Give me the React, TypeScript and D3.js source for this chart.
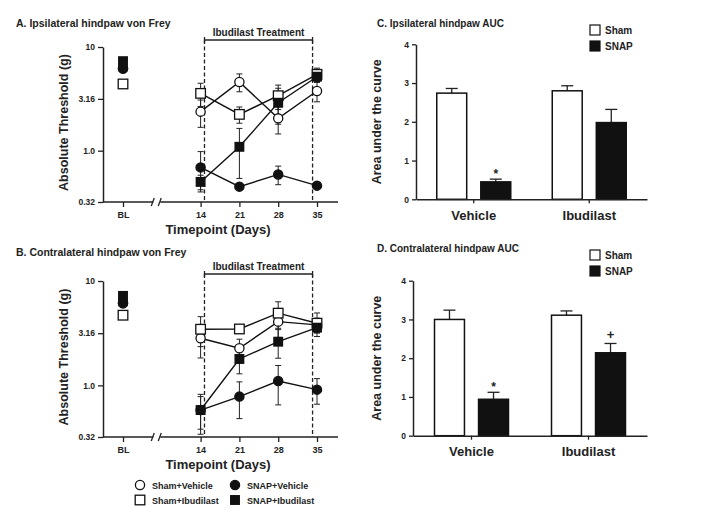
import { useRef, useEffect } from "react";
import * as d3 from "d3";

const WIDTH = 701;
const HEIGHT = 526;
const FONT = "'Liberation Sans', Arial, Helvetica, sans-serif";

// Timepoints in days; BL is plotted at day 0, left of the axis break
const timeDays = [0, 14, 21, 28, 35];
const timeLabels = ["BL", "14", "21", "28", "35"];
const thresholdTicks = [0.32, 1.0, 3.16, 10];
const thresholdTickLabels = ["0.32", "1.0", "3.16", "10"];
const treatmentWindow = [14.7, 34.2];

// A. Ipsilateral von Frey (g), mean and SEM per timepoint
const ipsiShamVehicle = [6.2, 2.38, 4.6, 2.05, 3.76];
const ipsiShamVehicleSem = [0.4, 0.7, 0.9, 0.6, 0.8];
const ipsiShamIbudilast = [4.4, 3.57, 2.24, 3.39, 5.45];
const ipsiShamIbudilastSem = [0.3, 0.9, 0.4, 0.9, 0.8];
const ipsiSnapVehicle = [6.2, 0.69, 0.45, 0.59, 0.46];
const ipsiSnapVehicleSem = [0.5, 0.29, 0.03, 0.12, 0.03];
const ipsiSnapIbudilast = [7.3, 0.5, 1.09, 2.9, 5.17];
const ipsiSnapIbudilastSem = [0.6, 0.08, 0.55, 1.1, 0.6];

// B. Contralateral von Frey (g)
const contraShamVehicle = [6.1, 2.83, 2.27, 4.08, 3.8];
const contraShamVehicleSem = [0.5, 1.0, 0.5, 1.2, 0.6];
const contraShamIbudilast = [4.7, 3.45, 3.47, 4.92, 3.94];
const contraShamIbudilastSem = [0.3, 1.1, 0.3, 1.4, 1.0];
const contraSnapVehicle = [6.2, 0.58, 0.78, 1.1, 0.91];
const contraSnapVehicleSem = [0.5, 0.2, 0.3, 0.45, 0.25];
const contraSnapIbudilast = [7.2, 0.58, 1.79, 2.62, 3.57];
const contraSnapIbudilastSem = [0.7, 0.24, 0.5, 0.8, 0.4];

// C / D. Area under the curve
const aucGroups = ["Vehicle", "Ibudilast"];
const aucSeries = ["Sham", "SNAP"];
const aucTicks = [0, 1, 2, 3, 4];
const ipsiAucSham = [2.74, 2.8];
const ipsiAucShamSem = [0.12, 0.13];
const ipsiAucSnap = [0.45, 1.98];
const ipsiAucSnapSem = [0.07, 0.34];
const ipsiAucMarks = ["*", ""];
const contraAucSham = [3.0, 3.11];
const contraAucShamSem = [0.24, 0.11];
const contraAucSnap = [0.94, 2.14];
const contraAucSnapSem = [0.18, 0.24];
const contraAucMarks = ["*", "+"];

type Shape = "circle" | "square";
interface Series {
  name: string;
  shape: Shape;
  filled: boolean;
  values: number[];
  sem: number[];
}

// drawn in this order: open (sham) markers underneath the filled ones
const ipsiSeries: Series[] = [
  { name: "Sham+Vehicle", shape: "circle", filled: false, values: ipsiShamVehicle, sem: ipsiShamVehicleSem },
  { name: "Sham+Ibudilast", shape: "square", filled: false, values: ipsiShamIbudilast, sem: ipsiShamIbudilastSem },
  { name: "SNAP+Vehicle", shape: "circle", filled: true, values: ipsiSnapVehicle, sem: ipsiSnapVehicleSem },
  { name: "SNAP+Ibudilast", shape: "square", filled: true, values: ipsiSnapIbudilast, sem: ipsiSnapIbudilastSem },
];

const contraSeries: Series[] = [
  { name: "Sham+Vehicle", shape: "circle", filled: false, values: contraShamVehicle, sem: contraShamVehicleSem },
  { name: "Sham+Ibudilast", shape: "square", filled: false, values: contraShamIbudilast, sem: contraShamIbudilastSem },
  { name: "SNAP+Vehicle", shape: "circle", filled: true, values: contraSnapVehicle, sem: contraSnapVehicleSem },
  { name: "SNAP+Ibudilast", shape: "square", filled: true, values: contraSnapIbudilast, sem: contraSnapIbudilastSem },
];

const legendOrder = ["Sham+Vehicle", "SNAP+Vehicle", "Sham+Ibudilast", "SNAP+Ibudilast"];

type Sel = d3.Selection<SVGSVGElement, unknown, null, undefined>;
type G = d3.Selection<SVGGElement, unknown, null, undefined>;

function drawMarker(g: G, shape: Shape, filled: boolean, cx: number, cy: number) {
  const fill = filled ? "#111" : "#fff";
  if (shape === "circle") {
    g.append("circle")
      .attr("cx", cx)
      .attr("cy", cy)
      .attr("r", 4.6)
      .attr("fill", fill)
      .attr("stroke", "#111")
      .attr("stroke-width", 1.3);
  } else {
    const s = filled ? 8.6 : 9.6;
    g.append("rect")
      .attr("x", cx - s / 2)
      .attr("y", cy - s / 2)
      .attr("width", s)
      .attr("height", s)
      .attr("fill", fill)
      .attr("stroke", "#111")
      .attr("stroke-width", 1.3);
  }
}

function drawVonFrey(
  svg: Sel,
  series: Series[],
  opts: { title: string; titleY: number; top: number; bottom: number }
) {
  const { title, titleY, top, bottom } = opts;
  const left = 103;
  const right = 338;
  const x = d3.scaleLinear().domain([0, 35]).range([123, 317]);
  const y = d3.scaleLog().domain([0.32, 10]).range([bottom, top]);
  const g = svg.append("g").attr("font-family", FONT);

  g.append("text")
    .attr("x", 16)
    .attr("y", titleY)
    .attr("font-size", "10.5px")
    .attr("font-weight", "bold")
    .attr("fill", "#222")
    .text(title);

  // Y axis
  const yAxis = g
    .append("g")
    .attr("transform", `translate(${left},0)`)
    .call(
      d3
        .axisLeft(y)
        .tickValues(thresholdTicks)
        .tickFormat((_, i) => thresholdTickLabels[i])
        .tickSize(5)
        .tickSizeOuter(0)
    );
  yAxis.selectAll("text").attr("font-size", "8.5px").attr("font-weight", "bold").attr("fill", "#222").attr("font-family", FONT);
  yAxis.select(".domain").attr("stroke", "#222").attr("stroke-width", 1.5);
  yAxis.selectAll(".tick line").attr("stroke", "#222").attr("stroke-width", 1.3);

  // X axis with a break after BL
  const xAxis = g
    .append("g")
    .attr("transform", `translate(0,${bottom})`)
    .call(
      d3
        .axisBottom(x)
        .tickValues(timeDays)
        .tickFormat((_, i) => timeLabels[i])
        .tickSize(5)
    );
  xAxis.select(".domain").remove();
  xAxis.selectAll("text").attr("font-size", "9px").attr("font-weight", "bold").attr("fill", "#222").attr("font-family", FONT).attr("dy", "0.9em");
  xAxis.selectAll(".tick line").attr("stroke", "#222").attr("stroke-width", 1.3);
  const breakX = x(6);
  g.append("line").attr("x1", left).attr("x2", breakX - 3).attr("y1", bottom).attr("y2", bottom).attr("stroke", "#222").attr("stroke-width", 1.5);
  g.append("line").attr("x1", breakX + 4).attr("x2", right).attr("y1", bottom).attr("y2", bottom).attr("stroke", "#222").attr("stroke-width", 1.5);
  [-3, 4].forEach((dx) => {
    g.append("line")
      .attr("x1", breakX + dx - 2)
      .attr("x2", breakX + dx + 1)
      .attr("y1", bottom + 4)
      .attr("y2", bottom - 4)
      .attr("stroke", "#222")
      .attr("stroke-width", 1.3);
  });

  // Axis labels
  g.append("text")
    .attr("transform", "rotate(-90)")
    .attr("x", -(top + bottom) / 2 + 2)
    .attr("y", 68)
    .attr("text-anchor", "middle")
    .attr("font-size", "12.5px")
    .attr("font-weight", "bold")
    .attr("fill", "#222")
    .text("Absolute Threshold (g)");
  g.append("text")
    .attr("x", 218)
    .attr("y", bottom + 32)
    .attr("text-anchor", "middle")
    .attr("font-size", "13px")
    .attr("font-weight", "bold")
    .attr("fill", "#222")
    .text("Timepoint (Days)");

  // Treatment window
  const bracketY = top - 7;
  const [t0, t1] = treatmentWindow.map((d) => x(d));
  g.append("line").attr("x1", t0).attr("x2", t1).attr("y1", bracketY).attr("y2", bracketY).attr("stroke", "#222").attr("stroke-width", 1.3);
  [t0, t1].forEach((tx) => {
    g.append("line").attr("x1", tx).attr("x2", tx).attr("y1", bracketY - 3).attr("y2", bracketY + 3).attr("stroke", "#222").attr("stroke-width", 1.3);
    g.append("line")
      .attr("x1", tx)
      .attr("x2", tx)
      .attr("y1", bracketY)
      .attr("y2", bottom)
      .attr("stroke", "#222")
      .attr("stroke-width", 1.3)
      .attr("stroke-dasharray", "4,2.5");
  });
  g.append("text")
    .attr("x", (t0 + t1) / 2)
    .attr("y", bracketY - 4)
    .attr("text-anchor", "middle")
    .attr("font-size", "10px")
    .attr("font-weight", "bold")
    .attr("fill", "#222")
    .text("Ibudilast Treatment");

  // Connecting lines (treatment days only, BL stands alone)
  const line = d3
    .line<number>()
    .x((_, i) => x(timeDays[i + 1]))
    .y((d) => y(d));
  series.forEach((s) => {
    g.append("path")
      .datum(s.values.slice(1))
      .attr("d", line)
      .attr("fill", "none")
      .attr("stroke", "#111")
      .attr("stroke-width", 1.4);
  });

  // Error bars
  series.forEach((s) => {
    s.values.forEach((v, i) => {
      const cx = x(timeDays[i]);
      const hi = y(v + s.sem[i]);
      const lo = y(Math.max(v - s.sem[i], 0.33));
      g.append("line").attr("x1", cx).attr("x2", cx).attr("y1", hi).attr("y2", lo).attr("stroke", "#222").attr("stroke-width", 1);
      [hi, lo].forEach((cy) => {
        g.append("line").attr("x1", cx - 3).attr("x2", cx + 3).attr("y1", cy).attr("y2", cy).attr("stroke", "#222").attr("stroke-width", 1);
      });
    });
  });

  // Markers
  series.forEach((s) => {
    s.values.forEach((v, i) => drawMarker(g, s.shape, s.filled, x(timeDays[i]), y(v)));
  });
}

function drawLegend(svg: Sel, series: Series[]) {
  const g = svg.append("g").attr("font-family", FONT);
  const col = d3.scaleOrdinal<number>().domain(["Sham", "SNAP"]).range([140, 235]);
  const row = d3.scaleOrdinal<number>().domain(["Vehicle", "Ibudilast"]).range([485, 500]);
  legendOrder.forEach((name) => {
    const s = series.find((d) => d.name === name)!;
    const [grp, trt] = name.split("+");
    const cx = col(grp);
    const cy = row(trt);
    drawMarker(g, s.shape, s.filled, cx, cy);
    g.append("text")
      .attr("x", cx + 12)
      .attr("y", cy + 3.5)
      .attr("font-size", "9px")
      .attr("font-weight", "bold")
      .attr("fill", "#222")
      .text(name);
  });
}

function drawAuc(
  svg: Sel,
  opts: {
    title: string;
    titleY: number;
    top: number;
    bottom: number;
    left: number;
    sham: number[];
    shamSem: number[];
    snap: number[];
    snapSem: number[];
    marks: string[];
  }
) {
  const { title, titleY, top, bottom, left } = opts;
  const right = 647;
  const g = svg.append("g").attr("font-family", FONT);
  const x0 = d3.scaleBand<string>().domain(aucGroups).range([left, right]).padding(0);
  const y = d3.scaleLinear().domain([0, 4]).range([bottom, top]);
  const values = [opts.sham, opts.snap];
  const sems = [opts.shamSem, opts.snapSem];

  g.append("text")
    .attr("x", 377)
    .attr("y", titleY)
    .attr("font-size", "10px")
    .attr("font-weight", "bold")
    .attr("fill", "#222")
    .text(title);

  // Legend
  const ly = d3.scaleOrdinal<number>().domain(aucSeries).range([titleY + 3, titleY + 19]);
  aucSeries.forEach((name, k) => {
    g.append("rect")
      .attr("x", 590)
      .attr("y", ly(name) - 5)
      .attr("width", 10)
      .attr("height", 10)
      .attr("fill", k === 0 ? "#fff" : "#111")
      .attr("stroke", "#111")
      .attr("stroke-width", 1.2);
    g.append("text")
      .attr("x", 605)
      .attr("y", ly(name) + 4)
      .attr("font-size", "10px")
      .attr("font-weight", "bold")
      .attr("fill", "#222")
      .text(name);
  });

  // Bars
  aucGroups.forEach((grp, gi) => {
    const c = x0(grp)! + x0.bandwidth() / 2;
    const x1 = d3.scaleBand<string>().domain(aucSeries).range([c - 37, c + 37]).paddingInner(0.32);
    aucSeries.forEach((s, si) => {
      const v = values[si][gi];
      const bx = x1(s)!;
      const bw = x1.bandwidth();
      const errTop = y(v + sems[si][gi]);
      // upward error bar
      g.append("line").attr("x1", bx + bw / 2).attr("x2", bx + bw / 2).attr("y1", y(v)).attr("y2", errTop).attr("stroke", "#222").attr("stroke-width", 1.3);
      g.append("line").attr("x1", bx + bw / 2 - 6).attr("x2", bx + bw / 2 + 6).attr("y1", errTop).attr("y2", errTop).attr("stroke", "#222").attr("stroke-width", 1.3);
      g.append("rect")
        .attr("x", bx)
        .attr("y", y(v))
        .attr("width", bw)
        .attr("height", bottom - y(v))
        .attr("fill", si === 0 ? "#fff" : "#111")
        .attr("stroke", "#111")
        .attr("stroke-width", 1.5);
      if (si === 1 && opts.marks[gi]) {
        const isPlus = opts.marks[gi] === "+";
        g.append("text")
          .attr("x", bx + bw / 2)
          .attr("y", errTop - (isPlus ? 4 : 1))
          .attr("text-anchor", "middle")
          .attr("font-size", isPlus ? "13px" : "12px")
          .attr("font-weight", "bold")
          .attr("fill", "#222")
          .text(opts.marks[gi]);
      }
    });
  });

  // Axes
  const yAxis = g
    .append("g")
    .attr("transform", `translate(${left},0)`)
    .call(d3.axisLeft(y).tickValues(aucTicks).tickFormat(d3.format("d")).tickSize(4).tickSizeOuter(0));
  yAxis.select(".domain").attr("stroke", "#222").attr("stroke-width", 1.5);
  yAxis.selectAll(".tick line").attr("stroke", "#222").attr("stroke-width", 1.3);
  yAxis.selectAll("text").attr("font-size", "8.5px").attr("font-weight", "bold").attr("fill", "#222").attr("font-family", FONT);

  const xAxis = g
    .append("g")
    .attr("transform", `translate(0,${bottom})`)
    .call(d3.axisBottom(x0).tickSize(4).tickSizeOuter(0));
  xAxis.select(".domain").attr("stroke", "#222").attr("stroke-width", 1.5);
  xAxis.selectAll(".tick line").attr("stroke", "#222").attr("stroke-width", 1.3);
  xAxis.selectAll("text").attr("font-size", "13px").attr("font-weight", "bold").attr("fill", "#222").attr("font-family", FONT).attr("dy", "1.05em");

  g.append("text")
    .attr("transform", "rotate(-90)")
    .attr("x", -(top + bottom) / 2)
    .attr("y", 381)
    .attr("text-anchor", "middle")
    .attr("font-size", "12.5px")
    .attr("font-weight", "bold")
    .attr("fill", "#222")
    .text("Area under the curve");
}

export default function App() {
  const svgRef = useRef<SVGSVGElement>(null);

  useEffect(() => {
    if (!svgRef.current) return;
    const svg = d3.select(svgRef.current);
    svg.selectAll("*").remove();
    svg.append("rect").attr("width", WIDTH).attr("height", HEIGHT).attr("fill", "#fff");

    drawVonFrey(svg, ipsiSeries, { title: "A. Ipsilateral hindpaw von Frey", titleY: 27, top: 47, bottom: 202 });
    drawVonFrey(svg, contraSeries, { title: "B. Contralateral hindpaw von Frey", titleY: 256, top: 281, bottom: 437 });
    drawLegend(svg, contraSeries);

    drawAuc(svg, {
      title: "C. Ipsilateral hindpaw AUC",
      titleY: 27,
      top: 44.3,
      bottom: 199.3,
      left: 416,
      sham: ipsiAucSham,
      shamSem: ipsiAucShamSem,
      snap: ipsiAucSnap,
      snapSem: ipsiAucSnapSem,
      marks: ipsiAucMarks,
    });
    drawAuc(svg, {
      title: "D. Contralateral hindpaw AUC",
      titleY: 252,
      top: 280.7,
      bottom: 435.7,
      left: 413,
      sham: contraAucSham,
      shamSem: contraAucShamSem,
      snap: contraAucSnap,
      snapSem: contraAucSnapSem,
      marks: contraAucMarks,
    });
  }, []);

  return (
    <svg
      ref={svgRef}
      width={WIDTH}
      height={HEIGHT}
      viewBox={`0 0 ${WIDTH} ${HEIGHT}`}
      style={{ position: "absolute", left: 0, top: 0, display: "block" }}
    />
  );
}
